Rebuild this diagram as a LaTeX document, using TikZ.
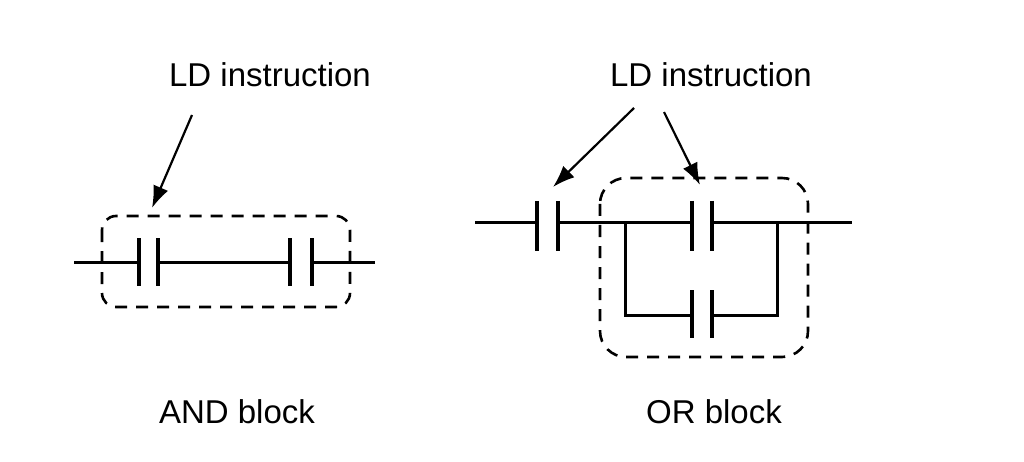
\documentclass[tikz,border=0pt]{standalone}
\usetikzlibrary{arrows.meta}
\usepackage{fontspec}
\setmainfont{Liberation Sans}
\begin{document}
\begin{tikzpicture}[x=1pt,y=-1pt,
  wire/.style={line width=3pt},
  plate/.style={line width=3.5pt},
  box/.style={line width=2.6pt,dash pattern=on 12pt off 9pt},
  arr/.style={line width=2.2pt,-{Latex[length=22pt,width=16pt]}},
  lbl/.style={font=\fontsize{33}{36}\selectfont,inner sep=0pt}]
\useasboundingbox (0,0) rectangle (1024,462);
% labels
\node[lbl] (ld1) at (270,75) {LD instruction};
\node[lbl] (ld2) at (711,75) {LD instruction};
\node[lbl] (and) at (237,412) {AND block};
\node[lbl] (or) at (714,412) {OR block};
% AND block
\coordinate (la) at (74,262); \coordinate (lb) at (375,262);
\draw[wire] (la) -- (139,262) (158,262) -- (290,262) (312,262) -- (lb);
\draw[plate] (139,238) -- (139,286) (158,238) -- (158,286)
             (290,238) -- (290,286) (312,238) -- (312,286);
\draw[box,rounded corners=14pt] (102,216) rectangle (350,307);
\coordinate (t1) at (152,208);
\draw[arr] (192,115) -- (t1);
% OR block
\draw[wire] (475,223) -- (537,223) (558,223) -- (692,223) (712,223) -- (852,223);
\draw[wire] (625,223) -- (625,315) -- (692,315) (712,315) -- (777,315) -- (777,223);
\draw[plate] (537,201) -- (537,251) (558,201) -- (558,251)
             (692,201) -- (692,251) (712,201) -- (712,251)
             (692,290) -- (692,338) (712,290) -- (712,338);
\draw[box,rounded corners=26pt] (600,178) rectangle (808,357);
\coordinate (t2) at (553,187); \coordinate (t3) at (700,185);
\draw[arr] (634,108) -- (t2);
\draw[arr] (664,112) -- (t3);
\end{tikzpicture}
\end{document}
